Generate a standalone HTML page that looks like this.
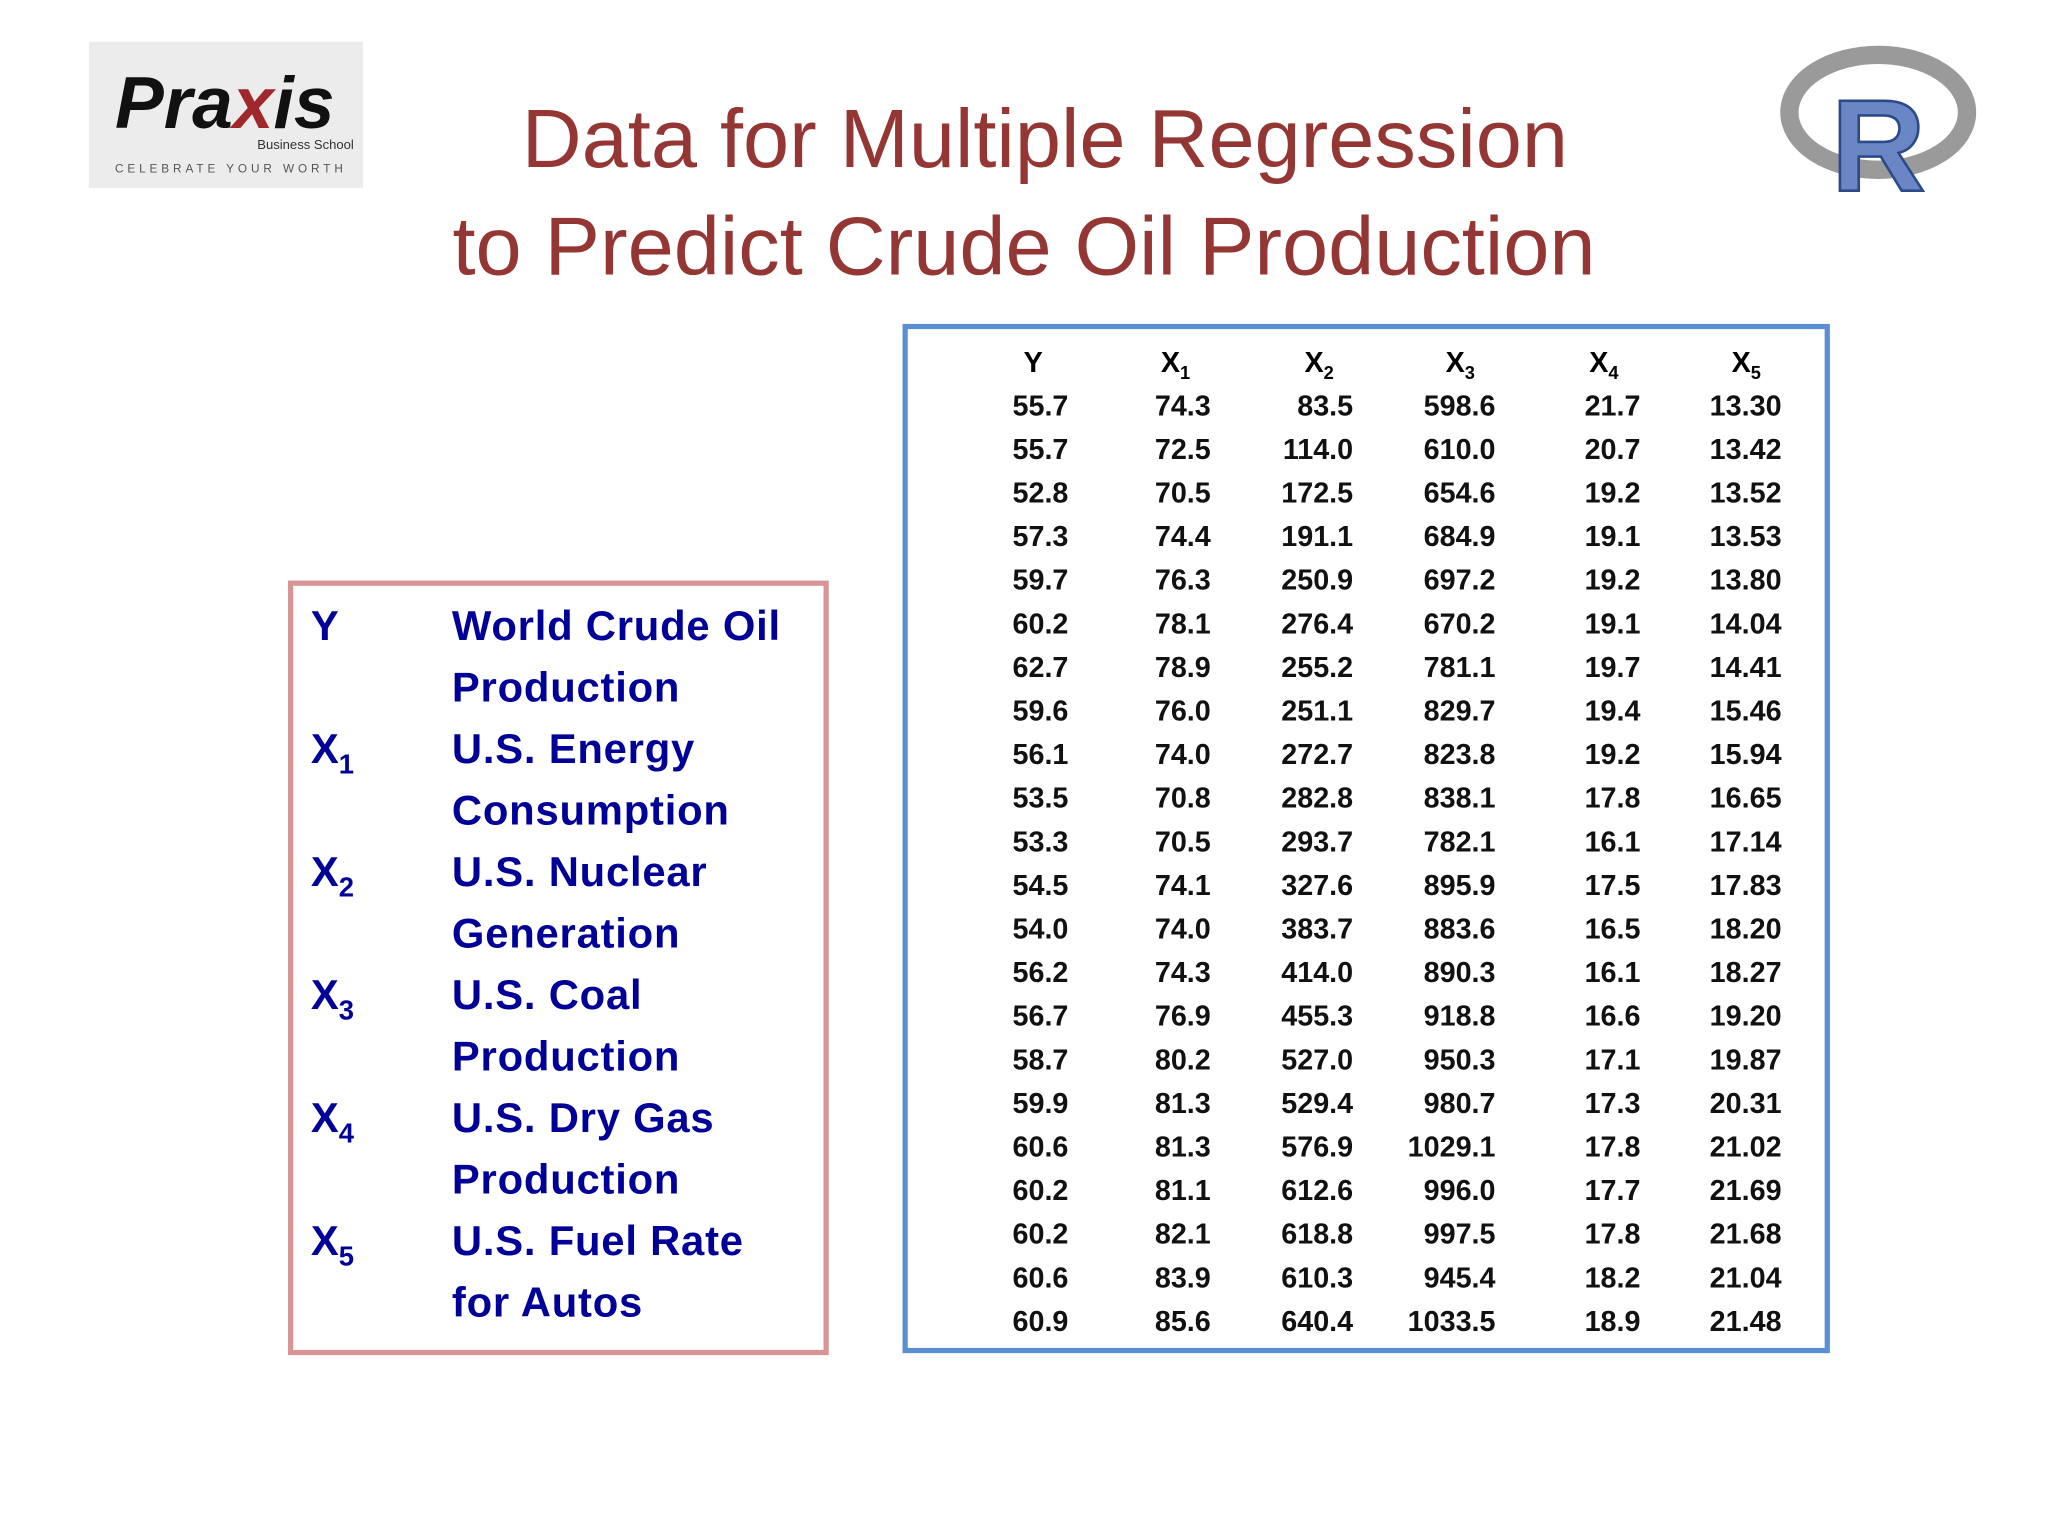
<!DOCTYPE html>
<html><head><meta charset="utf-8"><style>
html,body{margin:0;padding:0;background:#fff}
svg{display:block}
text{font-family:"Liberation Sans",sans-serif}
</style></head><body>
<svg id="s" width="2048" height="1536" viewBox="0 0 1568 1176" preserveAspectRatio="none">
<rect width="1568" height="1176" fill="#fff"/>
<g>
<rect x="68" y="32" width="210" height="112" fill="#ececec"/>
<text x="88" y="98" font-family="Liberation Serif" font-style="italic" font-weight="bold" font-size="56" fill="#111">Pra<tspan fill="#a0282c">x</tspan>is</text>
<text x="197" y="114" font-size="10" fill="#333">Business School</text>
<text x="88" y="132" font-size="9" letter-spacing="3" fill="#555">CELEBRATE YOUR WORTH</text>
</g>
<g>
<ellipse cx="1438" cy="86" rx="68" ry="44" fill="none" stroke="#9a9a9a" stroke-width="14"/>
<text x="1402" y="146" font-family="Liberation Serif" font-weight="bold" font-size="100" fill="#6b86c4" stroke="#2c4a8a" stroke-width="2">R</text>
</g>
<text x="800" y="128" text-anchor="middle" font-size="63.5" fill="#943634">Data for Multiple Regression</text>
<text x="784" y="210" text-anchor="middle" font-size="63.5" fill="#943634">to Predict Crude Oil Production</text>
<rect x="222.5" y="446.5" width="410" height="589" fill="none" stroke="#d99594" stroke-width="4"/>
<rect x="693" y="250" width="706" height="784" fill="none" stroke="#5b8fd4" stroke-width="4"/>
<g id="legend"></g>
<g id="table"></g>
</svg>
<script>
const Y=[55.7,55.7,52.8,57.3,59.7,60.2,62.7,59.6,56.1,53.5,53.3,54.5,54.0,56.2,56.7,58.7,59.9,60.6,60.2,60.2,60.6,60.9];
const X1=[74.3,72.5,70.5,74.4,76.3,78.1,78.9,76.0,74.0,70.8,70.5,74.1,74.0,74.3,76.9,80.2,81.3,81.3,81.1,82.1,83.9,85.6];
const X2=[83.5,114.0,172.5,191.1,250.9,276.4,255.2,251.1,272.7,282.8,293.7,327.6,383.7,414.0,455.3,527.0,529.4,576.9,612.6,618.8,610.3,640.4];
const X3=[598.6,610.0,654.6,684.9,697.2,670.2,781.1,829.7,823.8,838.1,782.1,895.9,883.6,890.3,918.8,950.3,980.7,1029.1,996.0,997.5,945.4,1033.5];
const X4=[21.7,20.7,19.2,19.1,19.2,19.1,19.7,19.4,19.2,17.8,16.1,17.5,16.5,16.1,16.6,17.1,17.3,17.8,17.7,17.8,18.2,18.9];
const X5=["13.30","13.42","13.52","13.53","13.80","14.04","14.41","15.46","15.94","16.65","17.14","17.83","18.20","18.27","19.20","19.87","20.31","21.02","21.69","21.68","21.04","21.48"];
const headers=["Y","X1","X2","X3","X4","X5"];
const NS="http://www.w3.org/2000/svg";
const tbl=document.getElementById('table');
const cols=[Y.map(v=>v.toFixed(1)),X1.map(v=>v.toFixed(1)),X2.map(v=>v.toFixed(1)),X3.map(v=>v.toFixed(1)),X4.map(v=>v.toFixed(1)),X5];
const right=[818,927,1036,1145,1256,1364], hc=[791,900,1010,1118,1228,1337];
headers.forEach((h,i)=>{
  const t=document.createElementNS(NS,'text');
  
  
  t.setAttribute('x',hc[i]);t.setAttribute('y',285);t.setAttribute('text-anchor','middle');
  t.setAttribute('font-size','22');t.setAttribute('font-weight','bold');
  t.innerHTML=h.length>1?'X<tspan font-size="14" dy="5">'+h[1]+'</tspan>':h;
  tbl.appendChild(t);
});
cols.forEach((c,i)=>c.forEach((v,r)=>{
  const t=document.createElementNS(NS,'text');
  
  
  t.setAttribute('x',right[i]);t.setAttribute('y',318+r*33.38);t.setAttribute('text-anchor','end');
  t.setAttribute('font-size','22');t.setAttribute('font-weight','bold');t.setAttribute('fill','#111');
  t.textContent=v;tbl.appendChild(t);
}));
const legText=["World Crude Oil","Production","U.S. Energy","Consumption","U.S. Nuclear","Generation","U.S. Coal","Production","U.S. Dry Gas","Production","U.S. Fuel Rate","for Autos"];
const legSym=["Y","","X1","","X2","","X3","","X4","","X5",""];
const lg=document.getElementById('legend');
legText.forEach((s,i)=>{
  const y=490+i*47.1;
  const sym=legSym[i];
  if(sym){
    const a=document.createElementNS(NS,'text');
    
    
    a.setAttribute('x',238);a.setAttribute('y',y);a.setAttribute('font-size','32');a.setAttribute('font-weight','bold');a.setAttribute('fill','#000099');
    a.innerHTML=sym.length>1?'X<tspan font-size="21" dy="8">'+sym[1]+'</tspan>':sym;
    lg.appendChild(a);
  }
  const b=document.createElementNS(NS,'text');
  
  
  b.setAttribute('x',346);b.setAttribute('y',y);b.setAttribute('font-size','32');b.setAttribute('font-weight','bold');b.setAttribute('fill','#000099');
  b.setAttribute('letter-spacing','0.6');
  b.textContent=s;lg.appendChild(b);
});
</script>
</body></html>
